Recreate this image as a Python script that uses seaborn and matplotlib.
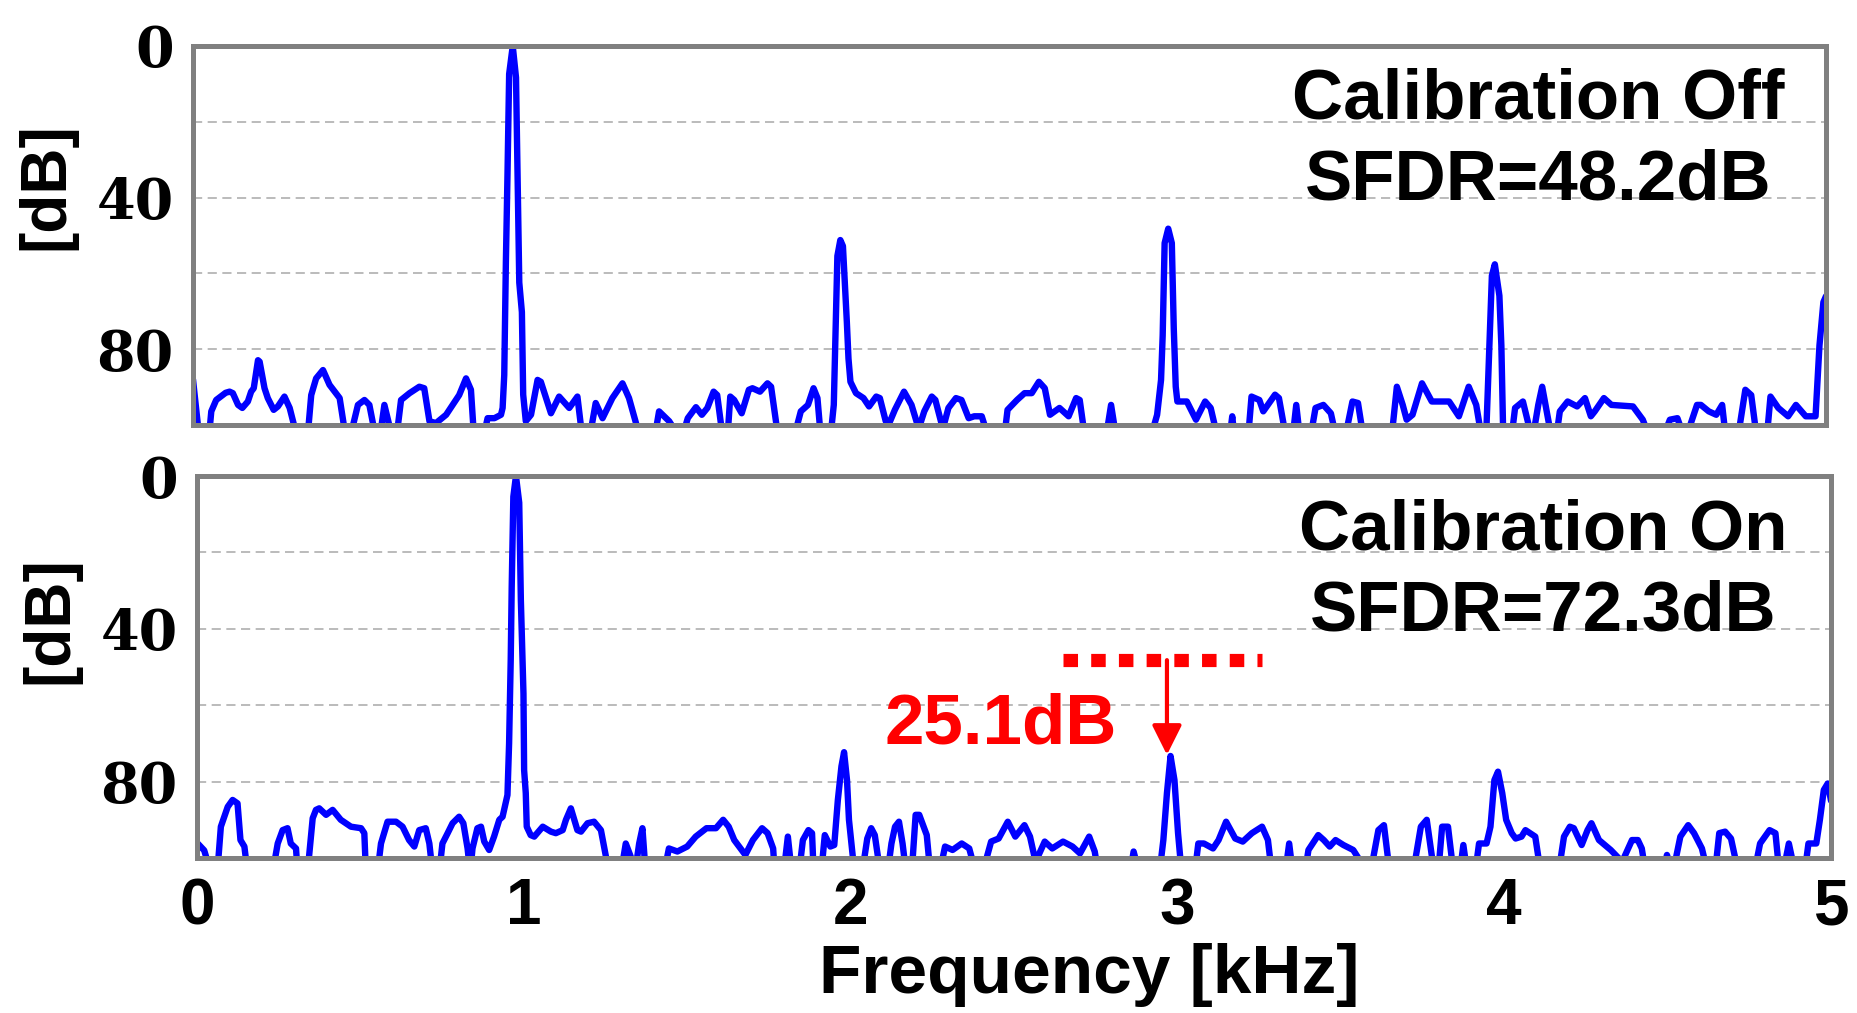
import pandas as pd
import matplotlib
matplotlib.use('Agg')
import matplotlib.pyplot as plt
import seaborn as sns

# спектр без калібрування: частота [кГц], рівень [дБ нижче основного тону]
freq_off = [
    0.000, 0.020, 0.048, 0.056, 0.071, 0.100, 0.112, 0.122, 0.138, 0.151,
    0.168, 0.178, 0.186, 0.199, 0.204, 0.219, 0.229, 0.247, 0.260, 0.280,
    0.296, 0.321, 0.350, 0.362, 0.377, 0.398, 0.418, 0.449, 0.469, 0.479,
    0.505, 0.525, 0.540, 0.561, 0.571, 0.586, 0.612, 0.622, 0.637, 0.663,
    0.693, 0.708, 0.724, 0.744, 0.775, 0.815, 0.836, 0.851, 0.861, 0.887,
    0.902, 0.923, 0.943, 0.948, 0.953, 0.958, 0.963, 0.968, 0.979, 0.989,
    0.994, 0.999, 1.007, 1.011, 1.019, 1.035, 1.055, 1.065, 1.081, 1.096,
    1.121, 1.152, 1.177, 1.193, 1.213, 1.233, 1.254, 1.284, 1.315, 1.335,
    1.371, 1.412, 1.427, 1.458, 1.495, 1.515, 1.540, 1.558, 1.575, 1.594,
    1.605, 1.623, 1.636, 1.645, 1.657, 1.680, 1.702, 1.713, 1.736, 1.759,
    1.770, 1.793, 1.838, 1.861, 1.883, 1.900, 1.912, 1.923, 1.951, 1.962,
    1.973, 1.982, 1.990, 2.002, 2.007, 2.013, 2.030, 2.053, 2.070, 2.092,
    2.103, 2.121, 2.132, 2.149, 2.177, 2.200, 2.222, 2.239, 2.262, 2.273,
    2.296, 2.313, 2.336, 2.353, 2.375, 2.392, 2.415, 2.438, 2.483, 2.494,
    2.523, 2.546, 2.568, 2.590, 2.608, 2.624, 2.653, 2.681, 2.704, 2.715,
    2.732, 2.794, 2.811, 2.828, 2.930, 2.952, 2.964, 2.969, 2.975, 2.986,
    2.997, 3.003, 3.009, 3.014, 3.043, 3.071, 3.099, 3.116, 3.139, 3.173,
    3.182, 3.190, 3.230, 3.241, 3.265, 3.277, 3.313, 3.325, 3.348, 3.366,
    3.378, 3.390, 3.420, 3.437, 3.461, 3.484, 3.502, 3.526, 3.550, 3.567,
    3.585, 3.669, 3.686, 3.704, 3.716, 3.734, 3.763, 3.793, 3.846, 3.876,
    3.906, 3.929, 3.947, 3.959, 3.971, 3.977, 3.986, 4.000, 4.006, 4.012,
    4.036, 4.048, 4.072, 4.083, 4.101, 4.119, 4.131, 4.143, 4.161, 4.173,
    4.185, 4.209, 4.238, 4.262, 4.280, 4.292, 4.320, 4.343, 4.409, 4.439,
    4.463, 4.498, 4.522, 4.545, 4.569, 4.605, 4.617, 4.641, 4.664, 4.682,
    4.694, 4.729, 4.753, 4.771, 4.789, 4.818, 4.830, 4.854, 4.884, 4.908,
    4.938, 4.968, 4.980, 4.992, 5.000]
db_off = [
    88.0, 104, 104, 96.4, 93.4, 91.5, 91.2, 91.6, 94.7, 95.5,
    93.8, 91.2, 90.3, 82.9, 83.3, 90.3, 92.9, 96.0, 95.1, 92.5,
    95.5, 104, 104, 92.1, 87.7, 85.5, 89.4, 92.9, 104, 104,
    94.7, 93.4, 94.7, 104, 104, 94.7, 104, 104, 93.4, 91.6,
    89.9, 90.3, 99.0, 99.5, 97.3, 92.1, 87.7, 90.7, 104, 104,
    98.2, 98.2, 97.3, 95.5, 86.8, 57.0, 33.6, 7.4, 0.0, 8.3,
    36.2, 62.4, 70.2, 92.0, 99.0, 97.3, 88.1, 88.6, 92.9, 96.9,
    92.5, 95.5, 92.5, 104, 104, 94.2, 98.2, 92.9, 89.0, 92.9,
    104, 104, 96.4, 99.0, 104, 98.2, 95.3, 97.3, 95.5, 91.2,
    92.1, 104, 104, 92.5, 93.4, 96.9, 90.7, 90.3, 91.2, 89.0,
    89.9, 104, 104, 96.4, 94.7, 90.3, 92.9, 104, 104, 94.7,
    55.4, 51.2, 52.8, 72.9, 82.5, 88.6, 91.6, 92.9, 95.1, 92.5,
    92.9, 99.0, 99.5, 96.0, 91.2, 94.7, 101, 96.4, 92.5, 93.4,
    101, 95.5, 92.9, 93.4, 98.2, 97.7, 97.7, 104, 104, 96.0,
    93.4, 91.6, 91.6, 88.6, 90.3, 97.3, 95.5, 97.7, 92.9, 93.4,
    104, 104, 94.7, 104, 104, 97.3, 88.1, 76.4, 52.0, 48.2,
    52.0, 74.6, 89.9, 93.8, 93.8, 98.6, 93.8, 95.5, 104, 104,
    97.7, 104, 104, 92.5, 93.4, 96.4, 92.0, 92.9, 104, 104,
    94.7, 104, 104, 95.5, 94.7, 96.9, 104, 104, 93.8, 94.2,
    104, 104, 89.9, 94.7, 98.6, 97.3, 89.0, 93.8, 93.8, 97.7,
    89.9, 94.7, 104, 104, 74.6, 60.6, 57.6, 65.9, 79.0, 104,
    104, 95.5, 93.8, 97.7, 104, 94.7, 89.9, 95.5, 104, 104,
    96.4, 93.8, 95.1, 92.9, 97.7, 96.4, 92.9, 94.7, 95.1, 98.6,
    104, 104, 98.6, 98.2, 104, 94.7, 94.7, 96.4, 97.3, 94.7,
    104, 104, 90.7, 92.1, 104, 104, 92.5, 95.5, 97.7, 94.7,
    97.7, 97.7, 79.0, 67.6, 66.0]

# спектр з калібруванням
freq_on = [
    0.000, 0.022, 0.043, 0.062, 0.073, 0.094, 0.109, 0.124, 0.133, 0.145,
    0.155, 0.231, 0.247, 0.262, 0.277, 0.287, 0.303, 0.308, 0.338, 0.354,
    0.364, 0.374, 0.395, 0.415, 0.440, 0.471, 0.502, 0.512, 0.517, 0.552,
    0.563, 0.583, 0.609, 0.629, 0.649, 0.665, 0.680, 0.700, 0.711, 0.721,
    0.741, 0.751, 0.767, 0.782, 0.802, 0.815, 0.828, 0.836, 0.843, 0.858,
    0.869, 0.879, 0.894, 0.909, 0.925, 0.935, 0.950, 0.955, 0.960, 0.963,
    0.968, 0.976, 0.986, 0.991, 0.999, 1.001, 1.006, 1.009, 1.021, 1.032,
    1.058, 1.083, 1.098, 1.119, 1.129, 1.144, 1.164, 1.175, 1.195, 1.215,
    1.236, 1.261, 1.297, 1.312, 1.327, 1.340, 1.353, 1.363, 1.373, 1.429,
    1.444, 1.470, 1.500, 1.526, 1.559, 1.588, 1.610, 1.627, 1.644, 1.678,
    1.701, 1.729, 1.746, 1.763, 1.768, 1.795, 1.808, 1.820, 1.842, 1.854,
    1.871, 1.882, 1.887, 1.910, 1.921, 1.938, 1.950, 1.961, 1.972, 1.980,
    1.989, 1.995, 2.012, 2.035, 2.051, 2.063, 2.074, 2.091, 2.113, 2.125,
    2.136, 2.148, 2.159, 2.170, 2.187, 2.199, 2.210, 2.233, 2.244, 2.272,
    2.289, 2.312, 2.340, 2.363, 2.374, 2.413, 2.430, 2.453, 2.481, 2.504,
    2.532, 2.549, 2.566, 2.594, 2.617, 2.650, 2.679, 2.702, 2.730, 2.747,
    2.758, 2.855, 2.866, 2.883, 2.945, 2.957, 2.968, 2.979, 2.991, 3.002,
    3.013, 3.053, 3.064, 3.081, 3.109, 3.126, 3.149, 3.177, 3.200, 3.228,
    3.259, 3.277, 3.289, 3.330, 3.342, 3.353, 3.390, 3.401, 3.431, 3.448,
    3.466, 3.484, 3.508, 3.538, 3.561, 3.597, 3.615, 3.632, 3.650, 3.721,
    3.745, 3.763, 3.786, 3.798, 3.810, 3.828, 3.845, 3.864, 3.875, 3.887,
    3.911, 3.923, 3.946, 3.958, 3.970, 3.981, 3.994, 4.006, 4.023, 4.035,
    4.053, 4.065, 4.095, 4.112, 4.166, 4.183, 4.201, 4.213, 4.237, 4.255,
    4.267, 4.290, 4.326, 4.361, 4.391, 4.409, 4.421, 4.433, 4.486, 4.498,
    4.516, 4.539, 4.563, 4.581, 4.605, 4.623, 4.645, 4.658, 4.676, 4.694,
    4.717, 4.765, 4.783, 4.812, 4.830, 4.842, 4.860, 4.871, 4.883, 4.919,
    4.931, 4.955, 4.966, 4.978, 4.990, 5.000]
db_on = [
    96.0, 98.0, 104, 104, 91.8, 86.6, 84.8, 85.7, 95.3, 97.0,
    104, 104, 96.2, 92.7, 92.2, 96.2, 97.5, 104, 104, 89.6,
    87.4, 87.0, 88.7, 87.4, 90.0, 91.8, 92.2, 93.5, 104, 104,
    96.2, 90.5, 90.5, 91.8, 95.3, 97.0, 92.7, 92.2, 96.2, 104,
    104, 96.2, 93.5, 90.9, 89.2, 90.9, 97.5, 104, 97.5, 92.2,
    91.8, 95.7, 97.9, 94.4, 90.0, 89.2, 83.5, 70.0, 48.0, 29.0,
    5.4, 0.0, 7.0, 32.5, 57.0, 77.0, 83.0, 91.8, 94.0, 94.4,
    91.8, 93.1, 93.5, 92.7, 90.0, 87.0, 92.7, 93.1, 90.9, 90.5,
    92.7, 104, 104, 96.2, 99.6, 104, 96.2, 92.2, 104, 104,
    97.5, 98.3, 97.0, 94.4, 92.2, 92.2, 90.0, 91.8, 95.3, 99.2,
    95.3, 92.2, 93.5, 97.5, 104, 104, 94.4, 104, 104, 95.3,
    92.7, 93.5, 104, 104, 94.0, 97.0, 96.6, 84.8, 76.0, 72.3,
    79.6, 90.0, 104, 104, 94.9, 92.2, 94.0, 104, 104, 96.2,
    91.8, 90.5, 96.2, 104, 104, 88.7, 88.7, 94.0, 104, 104,
    97.0, 97.9, 96.2, 97.5, 101, 101, 95.7, 94.9, 90.5, 94.4,
    91.4, 94.4, 101, 95.7, 97.5, 95.7, 97.0, 98.8, 94.4, 98.3,
    104, 104, 98.3, 104, 104, 95.3, 83.0, 73.3, 79.6, 93.5,
    104, 104, 96.2, 96.2, 97.5, 95.3, 90.5, 94.9, 95.7, 93.5,
    91.8, 95.3, 104, 104, 96.2, 104, 104, 97.9, 94.0, 95.3,
    97.0, 95.3, 96.6, 97.9, 101, 101, 92.7, 91.4, 104, 104,
    91.8, 90.0, 104, 104, 91.8, 91.8, 104, 104, 96.6, 104,
    104, 96.2, 96.2, 91.8, 79.6, 77.4, 83.0, 90.0, 93.5, 94.9,
    94.4, 92.7, 94.4, 104, 104, 94.4, 91.8, 92.2, 96.6, 92.7,
    90.9, 95.3, 97.9, 101, 95.3, 95.3, 97.5, 104, 104, 99.2,
    104, 94.4, 91.4, 93.5, 97.5, 104, 104, 93.5, 93.1, 94.9,
    104, 104, 96.2, 92.7, 93.5, 104, 101, 96.2, 101, 104,
    96.2, 96.2, 90.0, 82.2, 80.5, 85.0]

panel_titles = ['Calibration Off', 'Calibration On']
sfdr_labels = ['SFDR=48.2dB', 'SFDR=72.3dB']
ref_level = 48.2      # 3-я гармоніка без калібрування
spur_level = 73.3     # 3-я гармоніка з калібруванням
spur_freq = 2.968
delta_label = '25.1dB'

sns.set_style('white')
plt.rcParams['font.family'] = ['Liberation Sans', 'DejaVu Sans']
plt.rcParams['font.weight'] = 'bold'
plt.rcParams['text.color'] = 'black'
plt.rcParams['xtick.color'] = 'black'
plt.rcParams['ytick.color'] = 'black'

fig = plt.figure(figsize=(18.58, 10.13), dpi=100)
ax1 = fig.add_axes([193/1858, 1-425/1013, (1826-193)/1858, (425-46)/1013])
ax2 = fig.add_axes([197/1858, 1-858/1013, (1831-197)/1858, (858-476)/1013])

data = [(freq_off, db_off), (freq_on, db_on)]
for i, ax in enumerate([ax1, ax2]):
    df = pd.DataFrame({'f': data[i][0], 'db': data[i][1]})
    sns.lineplot(data=df, x='f', y='db', ax=ax, color='#0000ff', linewidth=4.6,
                 sort=False, estimator=None)
    ax.set_xlim(0, 5)
    ax.set_ylim(100, 0)
    ax.set_yticks([0, 40, 80])
    ax.set_yticks([20, 60], minor=True)
    ax.grid(axis='y', which='both', color='#a8a8a8', linewidth=1.1, linestyle=(0, (6, 3.6)))
    ax.set_axisbelow(True)
    ax.tick_params(axis='both', which='both', length=0)
    ax.tick_params(axis='y', pad=14)
    for lab in ax.get_yticklabels():
        lab.set_fontfamily('DejaVu Serif')
        lab.set_fontweight('bold')
        lab.set_fontsize(40)
        lab.set_color('black')
    for s in ax.spines.values():
        s.set_color('#808080')
        s.set_linewidth(3.6)
    ax.set_xlabel('')
    ax.set_ylabel('')
    ax.text(4.12, 19.2, panel_titles[i], ha='center', va='baseline', fontsize=51,
            fontweight='bold', color='black')
    ax.text(4.12, 40.5, sfdr_labels[i], ha='center', va='baseline', fontsize=51,
            fontweight='bold', color='black')

ax1.set_xticks([])
ax2.set_xticks([0, 1, 2, 3, 4, 5])
ax2.tick_params(axis='x', pad=14)
for lab in ax2.get_xticklabels():
    lab.set_fontsize(46)
    lab.set_fontweight('bold')
    lab.set_color('black')

fig.text(46/1858, 1-186/1013, '[dB]', rotation=90, ha='center', va='center',
         fontsize=46, fontweight='bold', color='black')
fig.text(50/1858, 1-620/1013, '[dB]', rotation=90, ha='center', va='center',
         fontsize=46, fontweight='bold', color='black')
fig.text(1089/1858, 1-975/1013, 'Frequency [kHz]', ha='center', va='center',
         fontsize=50, fontweight='bold', color='black')

# анотація різниці рівнів 3-ї гармоніки
ax2.plot([2.65, 3.26], [ref_level, ref_level], color='#ff0000', linewidth=9.5,
         linestyle=(0, (1.1, 1.0)), dash_capstyle='butt')
ax2.annotate('', xy=(spur_freq, spur_level - 0.3), xytext=(spur_freq, ref_level),
             arrowprops=dict(arrowstyle='-|>', color='#ff0000', lw=3,
                             mutation_scale=45, shrinkA=0, shrinkB=0))
ax2.text(2.46, 69.9, delta_label, color='#ff0000', ha='center', va='baseline',
         fontsize=51, fontweight='bold')

fig.savefig('out.png', dpi=100)
